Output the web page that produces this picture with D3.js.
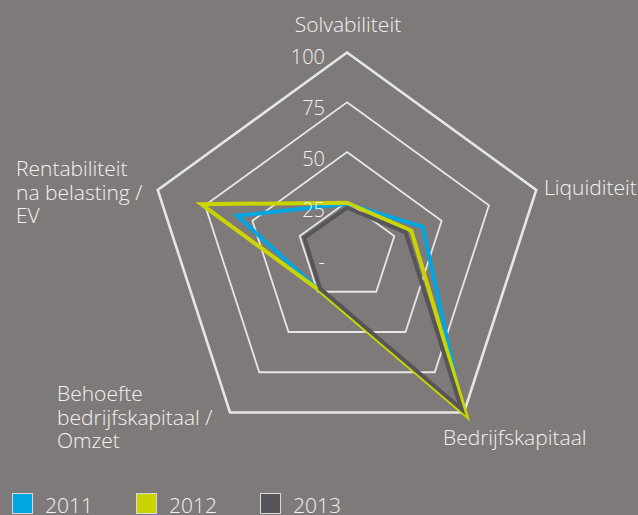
<!DOCTYPE html>
<html lang="nl">
<head>
<meta charset="utf-8">
<style>
  html, body { margin: 0; padding: 0; background: #7e7a79; }
  svg { display: block; }
  text { font-family: "Open Sans", "DejaVu Sans", sans-serif; font-weight: 300; fill: #f2f2f2; }
</style>
</head>
<body>
<svg width="638" height="515"></svg>
<script src="https://cdn.jsdelivr.net/npm/d3@7/dist/d3.min.js"></script>
<script>
// axes, clockwise from the top
var axes = ["Solvabiliteit", "Liquiditeit", "Bedrijfskapitaal",
            "Behoefte bedrijfskapitaal / Omzet", "Rentabiliteit na belasting / EV"];
var years = ["2011", "2012", "2013"];
var values2011 = [24, 40, 99, 24, 58];
var values2012 = [24.5, 34, 102, 24, 77];
var values2013 = [22, 31, 98, 23, 22.5];
var levels = [0, 25, 50, 75, 100];
var levelLabels = ["-", "25", "50", "75", "100"];

var colors = { "2011": "#00a6e0", "2012": "#c9d400", "2013": "#58555a" };

var svg = d3.select("svg");
var cx = 347, cy = 251.5, R = 199;

var r = d3.scaleLinear().domain([0, 100]).range([0, R]);
var angle = d3.scaleLinear().domain([0, axes.length]).range([0, 2 * Math.PI]);
// scale labels sit a little below each grid peak
var labelY = d3.scaleLinear().domain([0, 100]).range([17, -187.5]);

var g = svg.append("g").attr("transform", "translate(" + cx + "," + cy + ")");

var radial = d3.lineRadial()
    .angle(function(d, i) { return angle(i); })
    .radius(function(d) { return r(d); })
    .curve(d3.curveLinearClosed);

// grid pentagons
g.selectAll(".grid")
    .data(levels.filter(function(l) { return l > 0; }))
    .enter().append("path")
    .attr("class", "grid")
    .attr("d", function(l) { return radial(axes.map(function() { return l; })); })
    .attr("fill", "none")
    .attr("stroke", "#e6e6e6")
    .attr("stroke-width", function(l) { return l === 100 ? 2.6 : 1.8; });

// series (2013 drawn last)
var series = [values2011, values2012, values2013];
g.selectAll(".series")
    .data(series)
    .enter().append("path")
    .attr("class", "series")
    .attr("d", function(d) { return radial(d); })
    .attr("fill", "none")
    .attr("stroke", function(d, i) { return colors[years[i]]; })
    .attr("stroke-width", 4)
    .attr("stroke-linejoin", "miter");

// scale labels along the top axis, on top of the lines
g.selectAll(".tick")
    .data(levels)
    .enter().append("text")
    .attr("class", "tick")
    .attr("x", -22)
    .attr("y", function(l) { return labelY(l); })
    .attr("text-anchor", "end")
    .attr("font-size", 20)
    .text(function(l, i) { return levelLabels[i]; });

// axis labels
var labelPos = [
  { x: 348, y: 32, anchor: "middle", lines: ["Solvabiliteit"] },
  { x: 544, y: 195, anchor: "start", lines: ["Liquiditeit"] },
  { x: 443, y: 445, anchor: "start", lines: ["Bedrijfskapitaal"] },
  { x: 57, y: 401, anchor: "start", lines: ["Behoefte", "bedrijfskapitaal /", "Omzet"] },
  { x: 16, y: 176, anchor: "start", lines: ["Rentabiliteit", "na belasting /", "EV"] }
];
labelPos.forEach(function(p) {
  var t = svg.append("text")
      .attr("x", p.x).attr("y", p.y)
      .attr("text-anchor", p.anchor)
      .attr("font-size", 21);
  p.lines.forEach(function(line, i) {
    t.append("tspan").attr("x", p.x).attr("dy", i === 0 ? 0 : 23.5).text(line);
  });
});

// legend
var legend = svg.selectAll(".legend")
    .data(years)
    .enter().append("g")
    .attr("class", "legend")
    .attr("transform", function(d, i) { return "translate(" + (12 + i * 124) + ",493)"; });

legend.append("rect")
    .attr("x", 0.5).attr("y", 0.5)
    .attr("width", 20).attr("height", 20)
    .attr("fill", function(d) { return colors[d]; })
    .attr("stroke", "#d8d8d8")
    .attr("stroke-width", 1);

legend.append("text")
    .attr("x", 33).attr("y", 20)
    .attr("font-size", 21)
    .text(function(d) { return d; });
</script>
</body>
</html>
